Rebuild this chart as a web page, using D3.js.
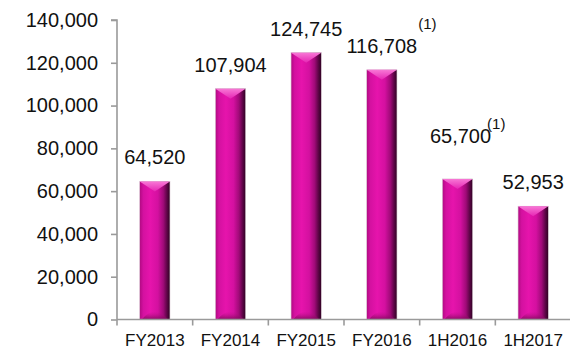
<!DOCTYPE html>
<html>
<head>
<meta charset="utf-8">
<script src="https://cdn.jsdelivr.net/npm/d3@7"></script>
<style>
  html, body { margin: 0; padding: 0; background: #fff; }
  svg { display: block; font-family: "Liberation Sans", Arial, sans-serif; }
</style>
</head>
<body>
<svg id="chart" width="570" height="351"></svg>
<script>
// Revenue by period
const categories = ["FY2013", "FY2014", "FY2015", "FY2016", "1H2016", "1H2017"];
const values = [64520, 107904, 124745, 116708, 65700, 52953];
const notes = ["", "", "", "(1)", "(1)", ""];
const yTicks = [0, 20000, 40000, 60000, 80000, 100000, 120000, 140000];

// Label placement tweaks (pixels)
const labelLift = { "1H2016": 19 };
const labelShift = { "1H2016": 3 };
const noteOffset = { "FY2016": { dx: 1, dy: -24 }, "1H2016": { dx: -4, dy: -14 } };

const svg = d3.select("#chart");
const plot = { left: 117, right: 571, top: 20, bottom: 319.5 };

const x = d3.scaleBand()
  .domain(categories)
  .range([plot.left, plot.right])
  .paddingInner(0.6)
  .paddingOuter(0.3);

const y = d3.scaleLinear()
  .domain([0, 140000])
  .range([plot.bottom, plot.top]);

// Gradients for the bevelled bars
const defs = svg.append("defs");
const body = defs.append("linearGradient").attr("id", "barBody")
  .attr("x1", "0").attr("x2", "1").attr("y1", "0").attr("y2", "0");
[["0%", "#b00a82"], ["12%", "#d411a0"], ["35%", "#e614ac"], ["60%", "#d410a0"],
 ["78%", "#a00a78"], ["90%", "#5e0547"], ["100%", "#2e0222"]]
  .forEach(([o, c]) => body.append("stop").attr("offset", o).attr("stop-color", c));

const cap = defs.append("linearGradient").attr("id", "barCap")
  .attr("x1", "0").attr("x2", "0").attr("y1", "0").attr("y2", "1");
[["0%", "#f878d6"], ["100%", "#e626b4"]]
  .forEach(([o, c]) => cap.append("stop").attr("offset", o).attr("stop-color", c));

const base = defs.append("linearGradient").attr("id", "barBase")
  .attr("x1", "0").attr("x2", "0").attr("y1", "0").attr("y2", "1");
[["0%", "#c0108c", 0], ["100%", "#7a0858", 0.85]]
  .forEach(([o, c, a]) => base.append("stop").attr("offset", o).attr("stop-color", c).attr("stop-opacity", a));

// Bars
const bars = svg.append("g").selectAll("g")
  .data(categories.map((c, i) => ({ c, v: values[i], note: notes[i] })))
  .join("g");

bars.append("rect")
  .attr("x", d => x(d.c))
  .attr("y", d => y(d.v))
  .attr("width", x.bandwidth())
  .attr("height", d => y(0) - y(d.v))
  .attr("fill", "url(#barBody)")
  .attr("stroke", "#d8c8d2")
  .attr("stroke-width", 0.6);

bars.append("path")
  .attr("d", d => {
    const x0 = x(d.c), x1 = x0 + x.bandwidth(), t = y(d.v), m = x0 + x.bandwidth() / 2;
    return `M${x0},${t}L${x1},${t}L${m},${t + 10}Z`;
  })
  .attr("fill", "url(#barCap)");

bars.append("path")
  .attr("d", d => {
    const x0 = x(d.c), x1 = x0 + x.bandwidth(), b = y(0), m = x0 + x.bandwidth() / 2;
    return `M${x0 + 2},${b}Q${m},${b - 16} ${x1 - 2},${b}Z`;
  })
  .attr("fill", "url(#barBase)");

// Value labels
const labels = bars.append("text")
  .attr("x", d => x(d.c) + x.bandwidth() / 2 + (labelShift[d.c] || 0))
  .attr("y", d => y(d.v) - 17 - (labelLift[d.c] || 0))
  .attr("text-anchor", "middle")
  .attr("font-size", 20)
  .attr("fill", "#111")
  .text(d => d3.format(",")(d.v));

labels.each(function (d) {
  if (!d.note) return;
  const bb = this.getBBox();
  const off = noteOffset[d.c] || { dx: 0, dy: -20 };
  d3.select(this.parentNode).append("text")
    .attr("x", bb.x + bb.width + off.dx)
    .attr("y", +d3.select(this).attr("y") + off.dy)
    .attr("font-size", 15)
    .attr("fill", "#111")
    .text(d.note);
});

// Y axis
const yAxis = svg.append("g")
  .attr("transform", `translate(${plot.left},0)`)
  .call(d3.axisLeft(y).tickValues(yTicks).tickFormat(d3.format(",")).tickSize(6).tickPadding(13));
yAxis.select(".domain").attr("stroke", "#9a9a9a").attr("stroke-width", 1.6)
  .attr("d", `M-6,${plot.top}H0V${plot.bottom}`);
yAxis.selectAll(".tick line").attr("stroke", "#9a9a9a").attr("stroke-width", 1.6);
yAxis.selectAll(".tick text").attr("font-size", 20).attr("fill", "#111")
  .attr("font-family", "'Liberation Sans', Arial, sans-serif");

// X axis
const xAxis = svg.append("g")
  .attr("transform", `translate(0,${plot.bottom})`)
  .call(d3.axisBottom(x).tickSize(0).tickPadding(14));
xAxis.select(".domain").attr("stroke", "#9a9a9a").attr("stroke-width", 1.6)
  .attr("d", `M${plot.left},0H${plot.right}`);
xAxis.selectAll(".tick text").attr("font-size", 17).attr("fill", "#111")
  .attr("font-family", "'Liberation Sans', Arial, sans-serif");

// Category boundary ticks
const edges = d3.range(categories.length + 1).map(i => plot.left + i * x.step());
xAxis.selectAll(".edge").data(edges).join("line")
  .attr("class", "edge")
  .attr("x1", d => d).attr("x2", d => d)
  .attr("y1", 0).attr("y2", 6)
  .attr("stroke", "#9a9a9a").attr("stroke-width", 1.6);
</script>
</body>
</html>
